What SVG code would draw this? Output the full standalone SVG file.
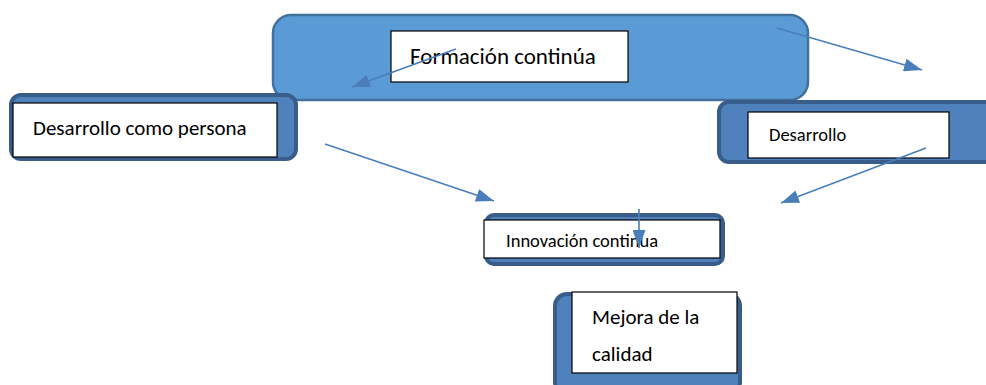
<svg xmlns="http://www.w3.org/2000/svg" width="986" height="385" viewBox="0 0 986 385">
<style>
.outer{fill:#4F81BD;stroke:#385D8A;stroke-width:4}
.top{fill:#5B9BD5;stroke:#41719C;stroke-width:2.5}
.lbl{fill:#FFFFFF;stroke:#000000;stroke-width:1.2}
text{font-family:Calibri,Carlito,"Liberation Sans","DejaVu Sans",sans-serif;fill:#000}
.conn{stroke:#4A7EBB;stroke-width:1.6;fill:none;marker-end:url(#ah)}
</style>
<defs>
<marker id="ah" viewBox="0 0 10 10" refX="10" refY="5" markerWidth="18" markerHeight="13" markerUnits="userSpaceOnUse" orient="auto" preserveAspectRatio="none">
<path d="M0,0 L10,5 L0,10 Z" fill="#4A7EBB"/>
</marker>
</defs>
<rect width="986" height="385" fill="#FFFFFF"/>
<g id="formacion">
<rect class="top" x="273" y="15" width="535" height="85" rx="18"/>
<rect class="lbl" x="391" y="31" width="237" height="51"/>
<text x="410" y="64" font-size="23">Formación continúa</text>
</g>
<g id="persona">
<rect class="outer" x="11" y="95" width="285" height="64" rx="10"/>
<rect class="lbl" x="13" y="103" width="264" height="54"/>
<text x="33" y="135" font-size="21">Desarrollo como persona</text>
</g>
<g id="desarrollo">
<rect class="outer" x="719" y="102" width="290" height="60" rx="10"/>
<rect class="lbl" x="748" y="112" width="201" height="46"/>
<text x="769" y="141" font-size="18.5">Desarrollo</text>
</g>
<g id="innovacion">
<rect class="outer" x="486" y="215" width="237" height="49" rx="8"/>
<rect class="lbl" x="484" y="220" width="236" height="38"/>
<text x="506" y="247" font-size="18.5">Innovación continua</text>
</g>
<g id="mejora">
<rect class="outer" x="555" y="294" width="185" height="100" rx="12"/>
<rect class="lbl" x="572" y="292" width="165" height="81"/>
<text x="592" y="324" font-size="21">Mejora de la</text>
<text x="592" y="361" font-size="21">calidad</text>
</g>
<g id="connectors">
<line class="conn" x1="456" y1="49" x2="352" y2="87"/>
<line class="conn" x1="777" y1="28" x2="922" y2="70"/>
<line class="conn" x1="325" y1="144" x2="494" y2="201"/>
<line class="conn" x1="926" y1="148" x2="781" y2="203"/>
<line class="conn" x1="639" y1="209" x2="639" y2="248"/>
</g>
</svg>
